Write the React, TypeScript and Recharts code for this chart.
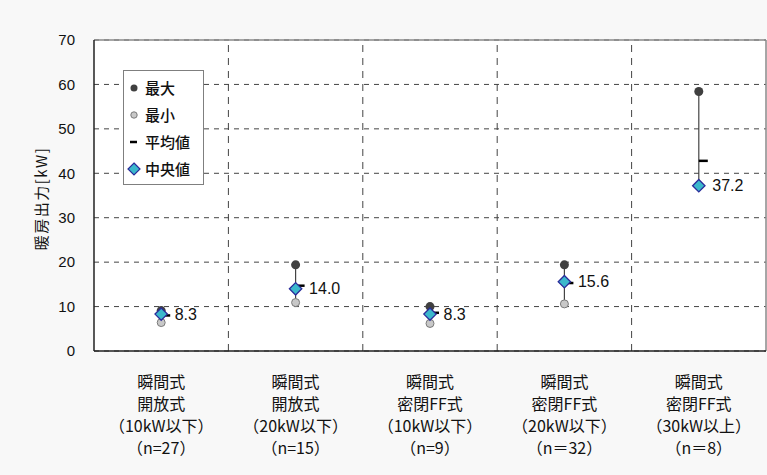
import {
  ComposedChart,
  Scatter,
  XAxis,
  YAxis,
  CartesianGrid,
  ReferenceLine,
  LabelList,
} from 'recharts';

const categoryLabels = [
  ['瞬間式', '開放式', '（10kW以下）', '（n=27）'],
  ['瞬間式', '開放式', '（20kW以下）', '（n=15）'],
  ['瞬間式', '密閉FF式', '（10kW以下）', '（n=9）'],
  ['瞬間式', '密閉FF式', '（20kW以下）', '（n＝32）'],
  ['瞬間式', '密閉FF式', '（30kW以上）', '（n＝8）'],
];
const maxValues = [9.1, 19.4, 10.0, 19.4, 58.4];
const minValues = [6.4, 10.9, 6.2, 10.6, 37.2];
const meanValues = [8.0, 14.7, 8.6, 15.3, 42.8];
const medianValues = [8.3, 14.0, 8.3, 15.6, 37.2];
const yTicks = [0, 10, 20, 30, 40, 50, 60, 70];
const boundaryTicks = [0, 1, 2, 3, 4, 5];
const centerTicks = [0.5, 1.5, 2.5, 3.5, 4.5];

const data = categoryLabels.map((_, i) => ({
  x: i + 0.5,
  max: maxValues[i],
  min: minValues[i],
  mean: meanValues[i],
  median: medianValues[i],
}));

const CJK = '"Noto Sans CJK JP", "Noto Sans", sans-serif';
const LATIN = '"Liberation Sans", Arial, sans-serif';

const MaxDot = ({ cx, cy }: any) => <circle cx={cx} cy={cy} r={4.5} fill="#404040" />;
const MinDot = ({ cx, cy }: any) => (
  <circle cx={cx} cy={cy} r={4} fill="#c8c8c8" stroke="#7a7a7a" strokeWidth={1} />
);
const MeanDash = ({ cx, cy }: any) => (
  <line x1={cx} y1={cy} x2={cx + 9} y2={cy} stroke="#000" strokeWidth={2.5} />
);
const Diamond = ({ cx, cy }: any) => (
  <path
    d={`M${cx},${cy - 6.2} L${cx + 6.2},${cy} L${cx},${cy + 6.2} L${cx - 6.2},${cy} Z`}
    fill="#3bb8cc"
    stroke="#2a2a9a"
    strokeWidth={1.3}
  />
);

const CategoryTick = ({ x, y, payload }: any) => {
  const idx = Math.floor(payload.value);
  const lines = categoryLabels[idx] || [];
  return (
    <text x={x} y={y} textAnchor="middle" fontFamily={CJK} fontSize={16} fill="#111">
      {lines.map((l, i) => (
        <tspan key={i} x={x} dy={i === 0 ? 22 : 22}>
          {l}
        </tspan>
      ))}
    </text>
  );
};

const legendItems = [
  { name: '最大', icon: <circle cx={7} cy={8} r={3.5} fill="#404040" /> },
  { name: '最小', icon: <circle cx={7} cy={8} r={3.2} fill="#c8c8c8" stroke="#7a7a7a" /> },
  { name: '平均値', icon: <line x1={3} y1={8} x2={10} y2={8} stroke="#000" strokeWidth={2.5} /> },
  {
    name: '中央値',
    icon: <path d="M7,2 L13,8 L7,14 L1,8 Z" fill="#3bb8cc" stroke="#2a2a9a" strokeWidth={1.2} />,
  },
];

const BoxLegend = () => (
  <div
    style={{
      position: 'absolute',
      left: 123,
      top: 70,
      background: '#fff',
      border: '1px solid #7f7f7f',
      padding: '3px 4px 2px 3px',
      width: 72,
    }}
  >
    {legendItems.map((it) => (
      <div key={it.name} style={{ display: 'flex', alignItems: 'center', height: 27 }}>
        <svg width={16} height={16} style={{ marginRight: 2 }}>
          {it.icon}
        </svg>
        <span style={{ fontFamily: CJK, fontSize: 15, fontWeight: 500, color: '#111' }}>
          {it.name}
        </span>
      </div>
    ))}
  </div>
);

const YLabel = ({ viewBox }: any) => {
  const cx = 40;
  const cy = viewBox.y + viewBox.height / 2 + 3;
  return (
    <text
      x={cx}
      y={cy}
      transform={`rotate(-90 ${cx} ${cy})`}
      textAnchor="middle"
      dominantBaseline="central"
      fontFamily={CJK}
      fontSize={15}
      letterSpacing={1.5}
      fill="#111"
    >
      暖房出力[kW]
    </text>
  );
};

export default function App() {
  return (
    <div style={{ position: 'absolute', left: 0, top: 0, width: 767, height: 475, background: '#f8f8f8' }}>
      <ComposedChart
        width={767}
        height={475}
        data={data}
        margin={{ top: 40, right: 1, left: 0, bottom: 0 }}
      >
        <CartesianGrid
          fill="#fff"
          stroke="#444"
          strokeDasharray="5 5"
          xAxisId="grid"
          vertical={false}
        />
        <XAxis
          xAxisId="grid"
          type="number"
          dataKey="x"
          domain={[0, 5]}
          ticks={boundaryTicks}
          tick={false}
          tickSize={7}
          height={7}
          axisLine={{ stroke: '#222', strokeWidth: 1.5 }}
          tickLine={{ stroke: '#222' }}
        />
        <XAxis
          xAxisId="labels"
          type="number"
          dataKey="x"
          domain={[0, 5]}
          ticks={centerTicks}
          axisLine={false}
          tickLine={false}
          height={117}
          interval={0}
          tick={<CategoryTick />}
        />
        <YAxis
          type="number"
          domain={[0, 70]}
          ticks={yTicks}
          width={94}
          tickLine={false}
          tickMargin={13}
          axisLine={{ stroke: '#222', strokeWidth: 1.5 }}
          tick={{ fontFamily: LATIN, fontSize: 15, fill: '#111' }}
          label={<YLabel />}
        />
        {boundaryTicks.slice(1, -1).map((t) => (
          <ReferenceLine
            key={`b${t}`}
            xAxisId="grid"
            x={t}
            stroke="#444"
            strokeDasharray="7 6"
          />
        ))}
        <ReferenceLine xAxisId="grid" y={70} stroke="#8a8a8a" strokeWidth={1.5} />
        <ReferenceLine xAxisId="grid" x={5} stroke="#8a8a8a" strokeWidth={1.5} />
        {data.map((d) => (
          <ReferenceLine
            key={d.x}
            xAxisId="grid"
            segment={[
              { x: d.x, y: d.min },
              { x: d.x, y: d.max },
            ]}
            stroke="#444"
            strokeWidth={1.2}
          />
        ))}
        <Scatter xAxisId="grid" dataKey="min" shape={<MinDot />} isAnimationActive={false} />
        <Scatter xAxisId="grid" dataKey="max" shape={<MaxDot />} isAnimationActive={false} />
        <Scatter xAxisId="grid" dataKey="mean" shape={<MeanDash />} isAnimationActive={false} />
        <Scatter xAxisId="grid" dataKey="median" shape={<Diamond />} isAnimationActive={false}>
          <LabelList
            dataKey="median"
            position="right"
            offset={9}
            formatter={(v: any) => Number(v).toFixed(1)}
            style={{ fontFamily: LATIN, fontSize: 16, fill: '#111' }}
          />
        </Scatter>
      </ComposedChart>
      <BoxLegend />
    </div>
  );
}
